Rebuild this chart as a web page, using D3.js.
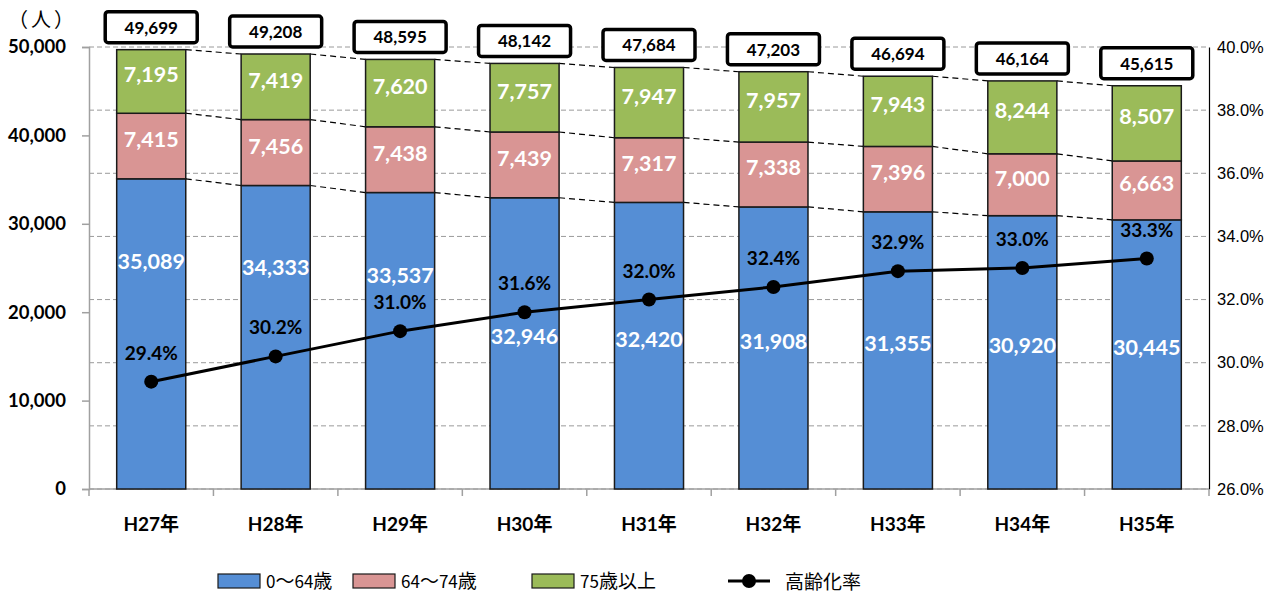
<!DOCTYPE html>
<html><head><meta charset="utf-8">
<script src="https://cdn.jsdelivr.net/npm/d3@7"></script>
<style>body{margin:0;background:#fff}svg{display:block}</style>
</head><body><svg id="c" width="1272" height="596"></svg>
<script>
const categories = ["H27年","H28年","H29年","H30年","H31年","H32年","H33年","H34年","H35年"];
const age0_64 = [35089,34333,33537,32946,32420,31908,31355,30920,30445];
const age64_74 = [7415,7456,7438,7439,7317,7338,7396,7000,6663];
const age75plus = [7195,7419,7620,7757,7947,7957,7943,8244,8507];
const totals = [49699,49208,48595,48142,47684,47203,46694,46164,45615];
const agingRate = [29.4,30.2,31.0,31.6,32.0,32.4,32.9,33.0,33.3];
const leftTicks = [0,10000,20000,30000,40000,50000];
const rightTicks = [26,28,30,32,34,36,38,40];
const seriesNames = ["0～64歳","64～74歳","75歳以上"];
const lineName = "高齢化率";
const colors = ["#558ED5","#D99594","#9BBB59"];

const svg = d3.select("#c");
const L = 89, R = 1209, T = 47, B = 489;
const x = d3.scaleBand().domain(categories).range([L,R]).paddingInner(0.445).paddingOuter(0.2225);
const y = d3.scaleLinear().domain([0,50000]).range([B,T]);
const y2 = d3.scaleLinear().domain([26,40]).range([B,T]);
const fmt = d3.format(",");
const boldFont = "Lato, 'Open Sans', sans-serif";

// gridlines (right axis)
svg.append("g").selectAll("line").data(rightTicks).join("line")
  .attr("x1",L).attr("x2",R).attr("y1",d=>y2(d)).attr("y2",d=>y2(d))
  .attr("stroke","#9a9a9a").attr("stroke-width",1).attr("stroke-dasharray","5,3");

// left axis
const la = svg.append("g").attr("transform",`translate(${L},0)`)
  .call(d3.axisLeft(y).tickValues(leftTicks).tickFormat(fmt).tickSize(7).tickPadding(16));
la.select(".domain").attr("stroke","#a0a0a0").attr("stroke-width",1.5);
la.selectAll(".tick line").attr("stroke","#a0a0a0").attr("stroke-width",1.5);
la.selectAll("text").attr("font-family",boldFont).attr("font-weight","bold").attr("font-size",18.5).attr("fill","#000");

// right axis
const ra = svg.append("g").attr("transform",`translate(${R},0)`)
  .call(d3.axisRight(y2).tickValues(rightTicks).tickFormat(d=>d.toFixed(1)+"%").tickSize(0).tickPadding(8));
ra.select(".domain").attr("stroke","#000").attr("stroke-width",1.2);
ra.selectAll("text").attr("font-family","'Liberation Sans', Arial, sans-serif").attr("font-size",16.5).attr("fill","#000");

// x axis
const xa = svg.append("g").attr("transform",`translate(0,${B})`);
xa.append("line").attr("x1",L).attr("x2",R).attr("stroke","#a0a0a0").attr("stroke-width",1.5);
const bounds = categories.map((c,i)=>L+i*x.step()).concat([R]);
xa.selectAll("line.tk").data(bounds).join("line").attr("class","tk")
  .attr("x1",d=>d).attr("x2",d=>d).attr("y1",0).attr("y2",7).attr("stroke","#a0a0a0").attr("stroke-width",1.5);
xa.selectAll("text").data(categories).join("text")
  .attr("x",d=>x(d)+x.bandwidth()/2).attr("y",42).attr("text-anchor","middle")
  .attr("font-family",boldFont+",'Noto Sans CJK JP'").attr("font-weight","bold").attr("font-size",19).text(d=>d);

// (人)
svg.append("text").attr("x",8).attr("y",27).attr("letter-spacing",3)
  .attr("font-family","'Noto Sans CJK JP'").attr("font-size",20).text("（人）");

// stacked data
const rows = categories.map((c,i)=>({cat:c, a:age0_64[i], b:age64_74[i], c2:age75plus[i]}));
const stack = d3.stack().keys(["a","b","c2"])(rows);

// connector dashed lines
const tops = [0,1,2].map(k=>rows.map((r,i)=>stack[k][i][1]));
tops.forEach(arr=>{
  for(let i=0;i<arr.length-1;i++){
    svg.append("line")
      .attr("x1",x(categories[i])+x.bandwidth()).attr("y1",y(arr[i]))
      .attr("x2",x(categories[i+1])).attr("y2",y(arr[i+1]))
      .attr("stroke","#000").attr("stroke-width",1.2).attr("stroke-dasharray","6,4");
  }
});

// bars
stack.forEach((s,k)=>{
  svg.append("g").selectAll("rect").data(s).join("rect")
    .attr("x",d=>x(d.data.cat)).attr("width",x.bandwidth())
    .attr("y",d=>y(d[1])).attr("height",d=>y(d[0])-y(d[1]))
    .attr("fill",colors[k]).attr("stroke","#1a1a1a").attr("stroke-width",1.5);
});

// segment labels
stack.forEach((s,k)=>{
  svg.append("g").selectAll("text").data(s).join("text")
    .attr("x",d=>x(d.data.cat)+x.bandwidth()/2)
    .attr("y",(d,i)=>{
      if(k===0 && i<3) return y(d[1])+90;
      return (y(d[0])+y(d[1]))/2 + 1;
    })
    .attr("text-anchor","middle")
    .attr("font-family",boldFont).attr("font-weight","bold").attr("font-size",21.5).attr("fill","#fff")
    .text(d=>fmt(d[1]-d[0]));
});

// total boxes
const tb = svg.append("g");
totals.forEach((t,i)=>{
  const cx = x(categories[i])+x.bandwidth()/2;
  const by = y(t)-5;
  tb.append("rect").attr("x",cx-46).attr("y",by-33).attr("width",92).attr("height",31).attr("rx",3)
    .attr("fill","#fff").attr("stroke","#000").attr("stroke-width",3.5);
  tb.append("text").attr("x",cx).attr("y",by-11).attr("text-anchor","middle")
    .attr("font-family",boldFont).attr("font-weight","bold").attr("font-size",17).text(fmt(t));
});

// line
const line = d3.line().x((d,i)=>x(categories[i])+x.bandwidth()/2).y(d=>y2(d));
svg.append("path").datum(agingRate).attr("d",line).attr("fill","none").attr("stroke","#000").attr("stroke-width",3);
svg.append("g").selectAll("circle").data(agingRate).join("circle")
  .attr("cx",(d,i)=>x(categories[i])+x.bandwidth()/2).attr("cy",d=>y2(d)).attr("r",7).attr("fill","#000");
svg.append("g").selectAll("text").data(agingRate).join("text")
  .attr("x",(d,i)=>x(categories[i])+x.bandwidth()/2).attr("y",d=>y2(d)-22).attr("text-anchor","middle")
  .attr("font-family",boldFont).attr("font-weight","bold").attr("font-size",19).text(d=>d.toFixed(1)+"%");

// legend
const lg = svg.append("g").attr("font-family","'Noto Sans CJK JP'").attr("font-size",16.5);
function richText(sel, str){
  [...str].forEach(ch=>{
    const cjk = /[\u3000-\u9fff\uff00-\uffef]/.test(ch);
    sel.append("tspan").attr("font-size", cjk ? 19 : 17).text(ch);
  });
}
const lx = [218,353,532];
seriesNames.forEach((n,k)=>{
  lg.append("rect").attr("x",lx[k]).attr("y",574).attr("width",42).attr("height",14)
    .attr("fill",colors[k]).attr("stroke","#1a1a1a").attr("stroke-width",1.2);
  richText(lg.append("text").attr("x",lx[k]+48).attr("y",588), n);
});
lg.append("line").attr("x1",728).attr("x2",770).attr("y1",581).attr("y2",581).attr("stroke","#000").attr("stroke-width",3);
lg.append("circle").attr("cx",749).attr("cy",581).attr("r",7).attr("fill","#000");
richText(lg.append("text").attr("x",785).attr("y",589), lineName);
</script></body></html>
